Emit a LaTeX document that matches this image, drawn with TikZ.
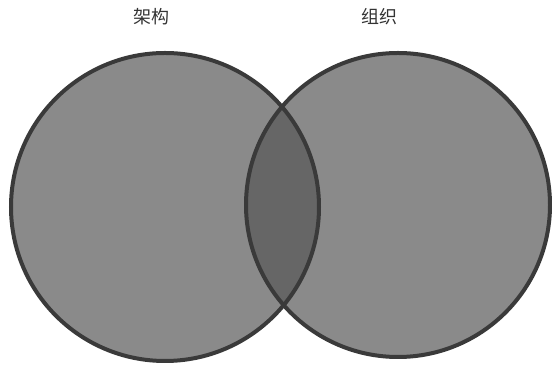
\documentclass[tikz,border=0pt]{standalone}
\usepackage{fontspec}
\usepackage{tikz}
\usepackage{xcolor}
\newfontfamily\cjk{Noto Sans CJK SC}
\definecolor{setgray}{HTML}{8A8A8A}
\definecolor{overlapgray}{HTML}{666666}
\definecolor{rimgray}{HTML}{3A3A3A}

\begin{document}
\begin{tikzpicture}[x=1pt,y=1pt]
\useasboundingbox (0,0) rectangle (552,366);
\node[circle,fill=setgray,minimum size=308pt,inner sep=0pt] (arch) at (165,159) {};
\node[circle,fill=setgray,minimum size=304pt,inner sep=0pt] (org) at (398,161) {};
\begin{scope}
\clip (arch.center) circle (154);
\fill[overlapgray] (org.center) circle (152);
\end{scope}
\draw[rimgray,line width=4pt] (arch.center) circle (154);
\draw[rimgray,line width=4pt] (org.center) circle (152);
\node[font=\cjk\fontsize{18}{20}\selectfont,text=black!80] (archlabel) at (151,349) {架构};
\node[font=\cjk\fontsize{18}{20}\selectfont,text=black!80] (orglabel) at (379,349) {组织};
\end{tikzpicture}
\end{document}
